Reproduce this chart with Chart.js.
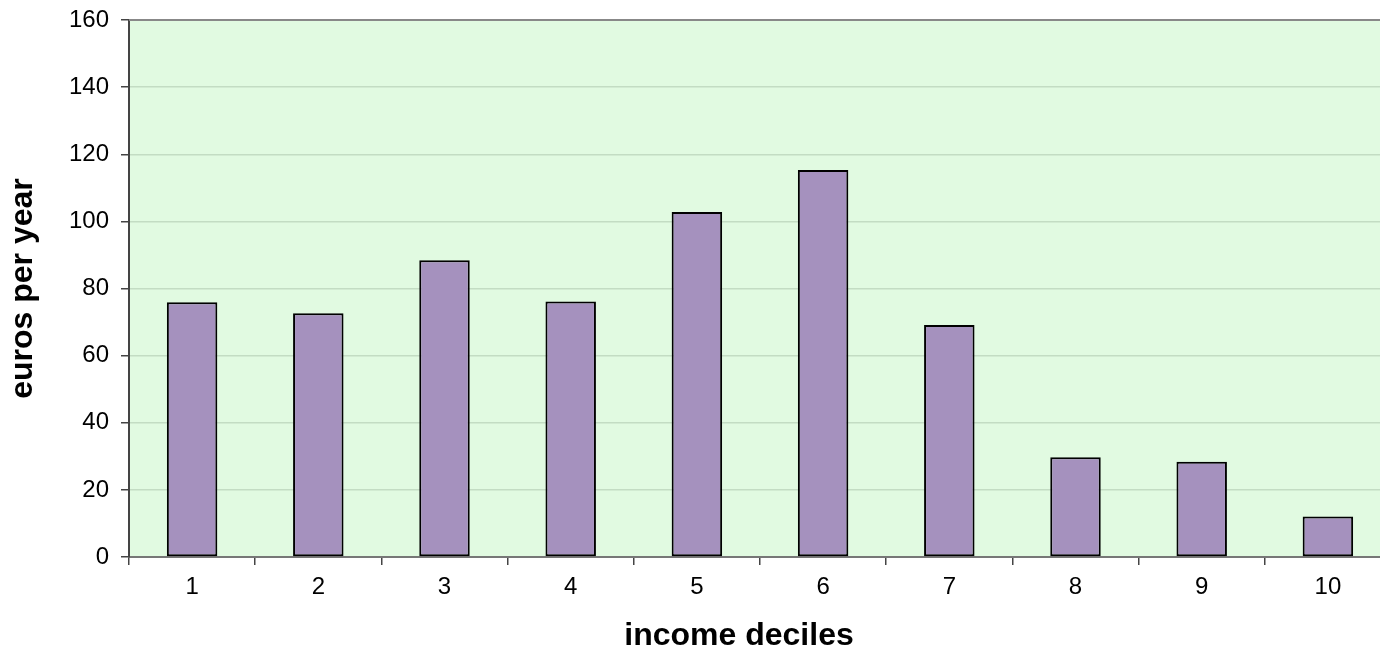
<!DOCTYPE html>
<html>
<head>
<meta charset="utf-8">
<script src="https://cdn.jsdelivr.net/npm/chart.js@4/dist/chart.umd.min.js"></script>
<style>
  html, body { margin: 0; padding: 0; background: #fff; overflow: hidden; }
  #wrap { width: 1392px; height: 648px; }
</style>
</head>
<body>
<div id="wrap"><canvas id="grafico"></canvas></div>
<script>
// datos
const deciles = ["1", "2", "3", "4", "5", "6", "7", "8", "9", "10"];
const eurosPorAno = [75.9, 72.6, 88.4, 76.1, 102.8, 115.3, 69.1, 29.7, 28.4, 12.1];
const ticksY = [0, 20, 40, 60, 80, 100, 120, 140, 160];
const tituloX = "income deciles";
const tituloY = "euros per year";

const fuente = "Arial, 'Liberation Sans', sans-serif";

// fondo verde del area, linea superior y titulo del eje x
const fondoArea = {
    id: "fondoArea",
    beforeDraw(chart) {
        const { ctx, chartArea: a } = chart;
        ctx.save();
        ctx.fillStyle = "#e1fae1";
        ctx.fillRect(a.left, a.top, a.right - a.left, a.bottom - a.top);
        ctx.restore();
    },
    afterDraw(chart) {
        const { ctx, chartArea: a } = chart;
        ctx.save();
        ctx.strokeStyle = "#888888";
        ctx.lineWidth = 2;
        ctx.beginPath();
        ctx.moveTo(a.left, a.top);
        ctx.lineTo(a.right, a.top);
        ctx.stroke();

        // el titulo va algo a la izquierda del centro, como en el original
        ctx.fillStyle = "#000";
        ctx.font = "bold 32px " + fuente;
        ctx.textAlign = "center";
        ctx.textBaseline = "alphabetic";
        ctx.fillText(tituloX, (a.left + a.right) / 2 - 21, chart.height - 3);
        ctx.restore();
    }
};

const ctx = document.getElementById("grafico").getContext("2d");

new Chart(ctx, {
    type: "bar",
    data: {
        labels: deciles,
        datasets: [{
            data: eurosPorAno,
            backgroundColor: "#a591be",
            borderColor: "#000000",
            borderWidth: 2,
            borderSkipped: false,
            barPercentage: 0.4,
            categoryPercentage: 1
        }]
    },
    options: {
        responsive: true,
        maintainAspectRatio: false,
        animation: false,
        devicePixelRatio: 1,
        layout: { padding: { top: 20, right: 1, left: 0, bottom: 0 } },
        plugins: {
            legend: { display: false },
            tooltip: { enabled: false }
        },
        scales: {
            x: {
                grid: {
                    offset: true,
                    drawOnChartArea: false,
                    drawTicks: true,
                    tickLength: 8,
                    tickColor: "#444444",
                    lineWidth: 1.5
                },
                border: { color: "#777777", width: 2 },
                ticks: {
                    color: "#000",
                    padding: 8,
                    font: { family: fuente, size: 24 }
                },
                afterFit(scale) {
                    scale.height = 91;
                    scale.paddingLeft = 0;
                    scale.paddingRight = 0;
                }
            },
            y: {
                min: 0,
                max: 160,
                afterBuildTicks(scale) {
                    scale.ticks = ticksY.map(v => ({ value: v }));
                },
                grid: {
                    color: "#c3dcc3",
                    lineWidth: 1.5,
                    drawTicks: true,
                    tickLength: 8,
                    tickColor: "#444444"
                },
                border: { color: "#444444", width: 2 },
                ticks: {
                    color: "#000",
                    padding: 12,
                    font: { family: fuente, size: 24 }
                },
                title: {
                    display: true,
                    text: tituloY,
                    color: "#000",
                    padding: { top: 4, bottom: 0 },
                    font: { family: fuente, size: 32, weight: "bold" }
                },
                afterFit(scale) {
                    scale.width = 129;
                    scale.paddingTop = 0;
                    scale.paddingBottom = 0;
                }
            }
        }
    },
    plugins: [fondoArea]
});
</script>
</body>
</html>
